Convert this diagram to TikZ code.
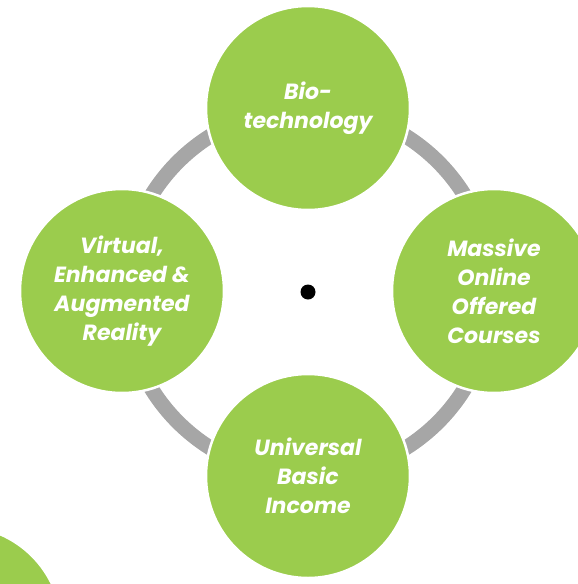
\documentclass[tikz,border=0pt]{standalone}
\usepackage{fontspec}
\setmainfont{Poppins}
\definecolor{leafgreen}{RGB}{155,204,77}
\definecolor{ringgray}{RGB}{166,166,166}
\begin{document}
\begin{tikzpicture}[x=1pt,y=-1pt]
    \tikzset{TopicStyle/.style = {%
        shape= circle,
        fill= leafgreen,
        draw= white,
        line width= 2.5pt,
        minimum size= 204pt,
        inner sep= 0pt,
        text= white,
        align= center,
        font= \fontsize{22}{29}\selectfont\bfseries\itshape},%
      RingStyle/.style = {draw= ringgray, line width= 15pt}}
    \useasboundingbox (0,0) rectangle (578,584);
    \node[circle,fill=black,minimum size=15pt,inner sep=0pt] (Hub) at (308,292) {};
    \draw[RingStyle] (Hub.center) circle (184pt);
    \node[TopicStyle] (Bio) at (308,108) {Bio-\\technology};
    \node[TopicStyle] (Mooc) at (494,291) {Massive\\Online\\Offered\\Courses};
    \node[TopicStyle] (Ubi) at (308,476) {Universal\\Basic\\Income};
    \node[TopicStyle] (Vr) at (122,291) {Virtual,\\Enhanced \&\\Augmented\\Reality};
    \node[TopicStyle] (Next) at (-40,628) {};
    %\node[TopicStyle] (Next) at (-40,628) {...};
  \end{tikzpicture}
\end{document}
